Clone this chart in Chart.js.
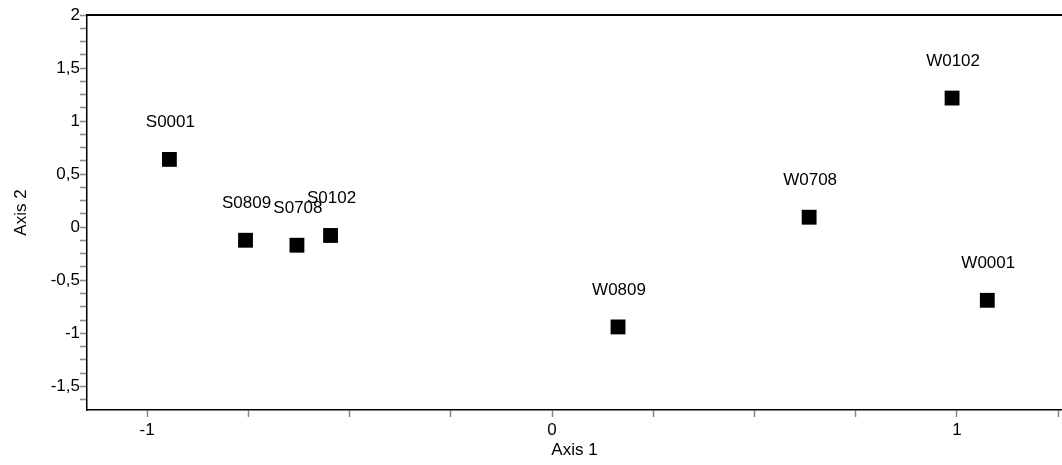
<!DOCTYPE html>
<html>
<head>
<meta charset="utf-8">
<script src="https://cdn.jsdelivr.net/npm/chart.js@4/dist/chart.umd.min.js"></script>
<style>
  html, body { margin:0; padding:0; background:#fff; overflow:hidden; }
  #wrap { width:1062px; height:465px; }
</style>
</head>
<body>
<div id="wrap"><canvas id="chart" width="1062" height="465"></canvas></div>
<script>
/* ======== DATA ======== */
const sites  = ['S0001','S0809','S0708','S0102','W0809','W0708','W0102','W0001'];
const axis1  = [-0.945, -0.757, -0.630, -0.547, 0.163, 0.635, 0.988, 1.075];
const axis2  = [ 0.639, -0.123, -0.170, -0.078, -0.940, 0.094, 1.217, -0.689];
const xRange = [-1.1485, 1.2595];
const yRange = [-1.723, 2.0];

const FONT = "'Liberation Sans', Arial, Helvetica, sans-serif";
Chart.defaults.font.family = FONT;
Chart.defaults.font.size = 17;
Chart.defaults.color = '#000';

const commaFmt = v => String(Math.round(v * 1000) / 1000).replace('.', ',');
const isStep = (v, s) => Math.abs(v / s - Math.round(v / s)) < 1e-6;

/* ======== PLUGINS ======== */
const pointLabels = {
  id: 'pointLabels',
  afterDatasetsDraw(chart){
    const {ctx, scales:{x, y}} = chart;
    ctx.save();
    ctx.font = '17px ' + FONT;
    ctx.fillStyle = '#000';
    ctx.textAlign = 'center';
    ctx.textBaseline = 'middle';
    sites.forEach((s, i) => {
      ctx.fillText(s, x.getPixelForValue(axis1[i]) + 1, y.getPixelForValue(axis2[i]) - 37);
    });
    ctx.restore();
  }
};

const topFrame = {
  id: 'topFrame',
  afterDraw(chart){
    const {ctx, chartArea:a} = chart;
    ctx.save();
    ctx.strokeStyle = '#000';
    ctx.lineWidth = 2;
    ctx.beginPath();
    ctx.moveTo(a.left, a.top);
    ctx.lineTo(chart.width, a.top);
    ctx.stroke();
    ctx.restore();
  }
};

/* ======== CHART ======== */
new Chart(document.getElementById('chart'), {
  type: 'scatter',
  data: {
    datasets: [{
      data: sites.map((s, i) => ({x: axis1[i], y: axis2[i]})),
      pointStyle: 'rect',
      pointRadius: 10.5,
      pointHoverRadius: 10.5,
      backgroundColor: '#000',
      borderColor: '#000',
      borderWidth: 0
    }]
  },
  options: {
    responsive: false,
    animation: false,
    layout: { autoPadding: false, padding: { top: 15, right: 0, left: 0, bottom: 0 } },
    plugins: { legend: { display:false }, tooltip: { enabled:false } },
    scales: {
      x: {
        type: 'linear',
        min: xRange[0], max: xRange[1],
        afterFit: s => { s.height = 55; s.paddingLeft = 0; s.paddingRight = 0; },
        border: { color:'#000', width:1.5 },
        grid: { drawOnChartArea:false, drawTicks:true, tickLength:7, tickColor:'#888', tickWidth:1.5 },
        ticks: {
          stepSize: 0.25, includeBounds: false, autoSkip: false, maxRotation: 0, padding: 3,
          callback: v => isStep(v, 1) ? commaFmt(v) : ''
        },
        title: { display:true, text:'Axis 1', font:{ size:17 }, padding:{ top:4, bottom:4 } }
      },
      y: {
        type: 'linear',
        min: yRange[0], max: yRange[1],
        afterFit: s => { s.width = 87; s.paddingTop = 0; s.paddingBottom = 0; },
        border: { color:'#000', width:1.5 },
        grid: { drawOnChartArea:false, drawTicks:true, tickLength:7, tickColor:'#888', tickWidth:1.5 },
        ticks: {
          stepSize: 0.125, includeBounds: false, autoSkip: false, padding: 0,
          callback: v => isStep(v, 0.5) ? commaFmt(v) : ''
        },
        title: { display:true, text:'Axis 2', font:{ size:17 }, padding:{ top:11, bottom:11 } }
      }
    }
  },
  plugins: [pointLabels, topFrame]
});
</script>
</body>
</html>
